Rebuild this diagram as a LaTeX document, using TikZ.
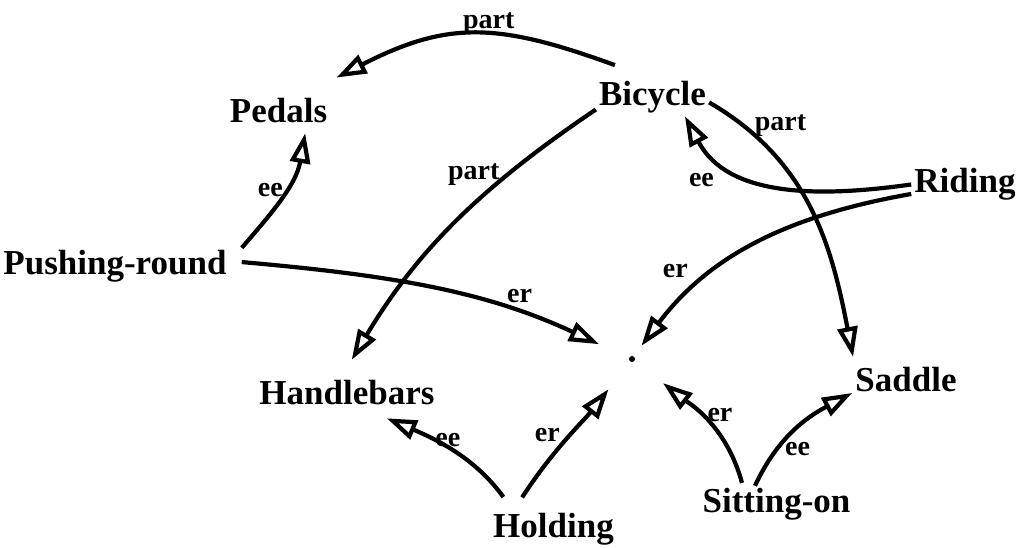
\documentclass[tikz,border=0pt]{standalone}
\usepackage{fontspec}
\setmainfont{Liberation Serif}
\usetikzlibrary{arrows.meta}

\begin{document}
\begin{tikzpicture}[
    x=1pt, y=1pt,
    concept/.style={anchor=base, inner xsep=3pt, inner ysep=3pt, text height=24pt, text depth=7pt, font=\fontsize{35}{40}\selectfont\bfseries},
    rel/.style={-{Triangle[open, length=30pt, width=20pt]}, line width=4.2pt},
    lbl/.style={inner sep=0pt, font=\fontsize{28}{32}\selectfont\bfseries}
]
    \useasboundingbox (0,0) rectangle (1018,548);

    % Concepts
    \node[concept] (bike) at (652.5,442) {Bicycle};
    \node[concept] (pedals) at (278.5,425) {Pedals};
    \node[concept] (riding) at (965,355) {Riding};
    \node[concept, inner xsep=15pt] (push) at (115,273) {Pushing-round};
    \node[concept] (handle) at (347,143) {Handlebars};
    \node[concept] (saddle) at (906,156) {Saddle};
    \node[concept] (hold) at (553.5,10) {Holding};
    \node[concept] (sit) at (776.5,35) {Sitting-on};
    \node[circle, fill, inner sep=0pt, minimum size=6pt] (dot) at (632,189) {};

    % Parts of the bicycle
    \draw[rel, shorten <=40pt, shorten >=40pt] (bike.north) to[out=160, in=27, looseness=1.2] node[lbl, pos=0.45, above=1pt] {part} (pedals.40);
    \draw[rel, shorten >=21pt] (bike.192) to[out=214, in=59] node[lbl, pos=0.28, left=6pt] {part} (handle.108);
    \draw[rel, shorten >=8pt] (bike.355) to[out=330, in=101] node[lbl, pos=0.15, anchor=base west, xshift=3pt] {part} (saddle.160);

    % Riding
    \draw[rel] (riding.180) to[out=188, in=298] node[lbl, pos=0.85, below=24pt, xshift=-6pt] {ee} (bike.330);
    \draw[rel, shorten >=13pt] (riding.190) to[out=190, in=53] node[lbl, pos=0.65, left=26pt] {er} (dot.60);

    % Pushing-round
    \draw[rel] (push.north east) to[out=49, in=260] node[lbl, pos=0.55, left=1pt] {ee} (pedals.325);
    \draw[rel, shorten >=33pt] (push.2) to[out=355, in=155] node[lbl, pos=0.72, above=9pt] {er} (dot.165);

    % Holding
    \draw[rel, shorten <=17pt, shorten >=8pt] (hold.155) to[out=126, in=337] node[lbl, pos=0.55, above] {ee} (handle.330);
    \draw[rel, shorten <=16pt, shorten >=35pt] (hold.155) to[out=57, in=232] node[lbl, pos=0.5, left=8pt] {er} (dot.234);

    % Sitting-on
    \draw[rel, shorten <=3pt, shorten >=36pt] (sit.151) to[out=105, in=322] node[lbl, pos=0.5, right=4pt] {er} (dot.323);
    \draw[rel] (sit.139) to[out=65, in=208] node[lbl, pos=0.3, right=6pt] {ee} (saddle.190);
\end{tikzpicture}
\end{document}
